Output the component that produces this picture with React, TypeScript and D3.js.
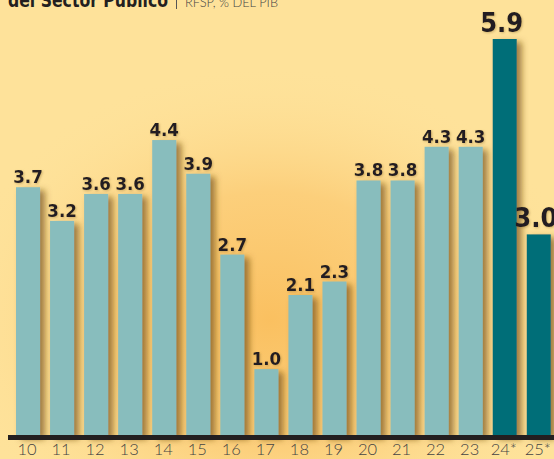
import React from "react";
import * as d3 from "d3";

const years = ["10","11","12","13","14","15","16","17","18","19","20","21","22","23","24*","25*"];
const values = [3.7,3.2,3.6,3.6,4.4,3.9,2.7,1.0,2.1,2.3,3.8,3.8,4.3,4.3,5.9,3.0];
const highlighted = ["24*","25*"];
const titleBold = "del Sector Público";
const titleLight = "RFSP, % DEL PIB";

const W = 554, H = 459;

export default function App() {
  const x = d3.scaleBand<string>().domain(years).range([16, 16 + 34.05 * 16 - 10]).paddingInner(0.294).paddingOuter(0);
  const y = d3.scaleLinear().domain([0, 5.9]).range([436.5, 39]);
  const fmt = d3.format(".1f");
  return (
    <svg width={W} height={H} style={{ position: "fixed", left: 0, top: 0, display: "block" }}>
      <defs>
        <radialGradient id="glow" cx="270" cy="320" r="320" gradientUnits="userSpaceOnUse" gradientTransform="translate(270 320) scale(1 0.8) translate(-270 -320)">
          <stop offset="0" stopColor="#FAC060" stopOpacity="1" />
          <stop offset="0.5" stopColor="#FBC76E" stopOpacity="0.7" />
          <stop offset="1" stopColor="#FEE29A" stopOpacity="0" />
        </radialGradient>
        <filter id="shadow" x="-30%" y="-10%" width="180%" height="130%">
          <feDropShadow dx="5" dy="3" stdDeviation="3" floodColor="#6e4a14" floodOpacity="0.65" />
        </filter>
        <filter id="tshadow" x="-20%" y="-20%" width="150%" height="150%">
          <feDropShadow dx="1" dy="1" stdDeviation="1" floodColor="#8a6a30" floodOpacity="0.4" />
        </filter>
      </defs>
      <rect x={0} y={0} width={W} height={H} fill="#FEE29A" />
      <rect x={0} y={0} width={W} height={H} fill="url(#glow)" />
      <g>
        <text x={8} y={7} fontFamily="'DejaVu Sans Condensed', 'DejaVu Sans'" fontWeight="bold" fontSize={19} fill="#231F20" textLength={160} lengthAdjust="spacingAndGlyphs">{titleBold}</text>
        <line x1={176.5} x2={176.5} y1={0} y2={9} stroke="#555" strokeWidth={1} />
        <text x={185} y={7} fontFamily="Lato, 'DejaVu Sans'" fontWeight={300} fontSize={14} fill="#444" textLength={93} lengthAdjust="spacingAndGlyphs">{titleLight}</text>
      </g>
      <g>
        {years.map((yr, i) => {
          const v = values[i];
          const hl = highlighted.includes(yr);
          return (
            <rect key={yr} x={x(yr)} y={y(v)} width={x.bandwidth()} height={y(0) - y(v)}
              fill={hl ? "#006E78" : "#88BDBD"} filter="url(#shadow)" />
          );
        })}
      </g>
      <g>
        {years.map((yr, i) => {
          const v = values[i];
          const hl = highlighted.includes(yr);
          const cx = (x(yr) as number) + x.bandwidth() / 2;
          return (
            <text key={yr} x={hl ? cx - 3 : cx} y={y(v) - (hl ? 7 : 4)} textAnchor="middle"
              fontFamily="'DejaVu Sans Condensed', 'DejaVu Sans'" fontWeight="bold" fontSize={hl ? 27 : 18.5}
              fill="#231F20" filter="url(#tshadow)">{fmt(v)}</text>
          );
        })}
      </g>
      <rect x={8} y={435} width={W - 8} height={5} fill="#231F20" />
      <g>
        {years.map((yr) => {
          const cx = (x(yr) as number) + x.bandwidth() / 2;
          return (
            <text key={yr} x={cx - 1} y={455} textAnchor="middle" fontFamily="Lato, 'DejaVu Sans'" fontWeight={300}
              fontSize={16.5} fill="#444">{yr}</text>
          );
        })}
      </g>
    </svg>
  );
}
